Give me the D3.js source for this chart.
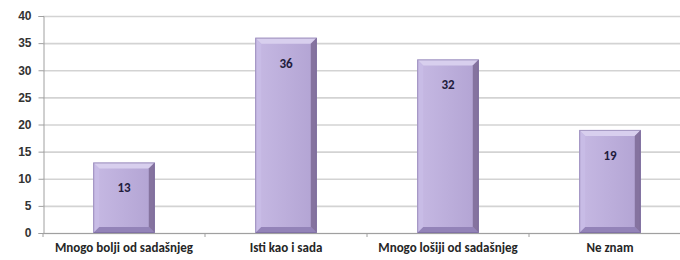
<!DOCTYPE html>
<html>
<head>
<meta charset="utf-8">
<script src="https://cdn.jsdelivr.net/npm/d3@7"></script>
<style>
  body { margin: 0; background: #fff; }
  svg { display: block; font-family: Carlito, Lato, "Open Sans", sans-serif; }
</style>
</head>
<body>
<svg class="chart" width="680" height="260"></svg>
<script>
const categories = ["Mnogo bolji od sadašnjeg", "Isti kao i sada", "Mnogo lošiji od sadašnjeg", "Ne znam"];
const values = [13, 36, 32, 19];
const yTicks = [0, 5, 10, 15, 20, 25, 30, 35, 40];

const plot = { left: 43, right: 691, top: 16, bottom: 233 };

const svg = d3.select("svg.chart");

const x = d3.scaleBand()
  .domain(categories)
  .range([plot.left, plot.right])
  .paddingInner(0.62)
  .paddingOuter(0.31);

const y = d3.scaleLinear()
  .domain([0, 40])
  .range([plot.bottom, plot.top]);

// gridlines
svg.append("g")
  .selectAll("line")
  .data(yTicks)
  .enter().append("line")
  .attr("x1", plot.left)
  .attr("x2", 680)
  .attr("y1", d => y(d) + 0.5)
  .attr("y2", d => y(d) + 0.5)
  .attr("stroke", "#d3d3d3")
  .attr("stroke-width", 1.6);

// y axis
const yAxis = svg.append("g")
  .attr("transform", "translate(" + (plot.left + 0.5) + ",0)")
  .call(d3.axisLeft(y).tickValues(yTicks).tickSize(5).tickPadding(7));
yAxis.select(".domain").attr("stroke", "#a0a0a0");
yAxis.selectAll(".tick line").attr("stroke", "#a0a0a0");
yAxis.selectAll("text")
  .attr("fill", "#333")
  .style("font-size", "12px")
  .style("font-weight", "bold");

// x axis baseline and boundary ticks
const boundaries = d3.range(categories.length + 1)
  .map(i => plot.left + i * (plot.right - plot.left) / categories.length);
svg.append("line")
  .attr("x1", plot.left).attr("x2", 680)
  .attr("y1", plot.bottom + 0.5).attr("y2", plot.bottom + 0.5)
  .attr("stroke", "#a0a0a0");
svg.append("g")
  .selectAll("line")
  .data(boundaries)
  .enter().append("line")
  .attr("x1", d => d).attr("x2", d => d)
  .attr("y1", plot.bottom).attr("y2", plot.bottom + 4)
  .attr("stroke", "#a0a0a0");

// gradient for the bar face
const defs = svg.append("defs");
const face = defs.append("linearGradient").attr("id", "face").attr("x1", 0).attr("x2", 1).attr("y1", 0).attr("y2", 0);
face.append("stop").attr("offset", 0).attr("stop-color", "#c6b9e3");
face.append("stop").attr("offset", 0.5).attr("stop-color", "#bcaedb");
face.append("stop").attr("offset", 1).attr("stop-color", "#b2a3d3");

const b = 6;
const bars = svg.append("g")
  .selectAll("g")
  .data(values)
  .enter().append("g");

bars.each(function(v, i) {
  const g = d3.select(this);
  const x0 = x(categories[i]), x1 = x0 + x.bandwidth();
  const y0 = y(v), y1 = y(0);
  g.append("rect")
    .attr("x", x0).attr("y", y0)
    .attr("width", x1 - x0).attr("height", y1 - y0)
    .attr("fill", "url(#face)");
  // top bevel
  g.append("path")
    .attr("d", d3.line()([[x0, y0], [x1, y0], [x1 - b, y0 + b], [x0 + b, y0 + b]]))
    .attr("fill", "#d8cfee");
  // left bevel
  g.append("path")
    .attr("d", d3.line()([[x0, y0], [x0 + b, y0 + b], [x0 + b, y1 - b], [x0, y1]]))
    .attr("fill", "#c8bce6");
  // right bevel
  g.append("path")
    .attr("d", d3.line()([[x1, y0], [x1, y1], [x1 - b, y1 - b], [x1 - b, y0 + b]]))
    .attr("fill", "#85739f");
  // bottom bevel
  g.append("path")
    .attr("d", d3.line()([[x0, y1], [x1, y1], [x1 - b, y1 - b], [x0 + b, y1 - b]]))
    .attr("fill", "#9383b8");
  g.append("rect")
    .attr("x", x0 + 0.5).attr("y", y0 + 0.5)
    .attr("width", x1 - x0 - 1).attr("height", y1 - y0 - 1)
    .attr("fill", "none")
    .attr("stroke", "#6f5f96")
    .attr("stroke-opacity", 0.5);
  g.append("text")
    .attr("x", (x0 + x1) / 2)
    .attr("y", y0 + 30)
    .attr("text-anchor", "middle")
    .attr("fill", "#231c3d")
    .style("font-size", "13px")
    .style("font-weight", "bold")
    .text(v);
});

// category labels
svg.append("g")
  .selectAll("text")
  .data(categories)
  .enter().append("text")
  .attr("x", d => x(d) + x.bandwidth() / 2)
  .attr("y", 252)
  .attr("text-anchor", "middle")
  .attr("fill", "#262626")
  .style("font-size", "13px")
  .style("font-weight", "bold")
  .text(d => d);
</script>
</body>
</html>
